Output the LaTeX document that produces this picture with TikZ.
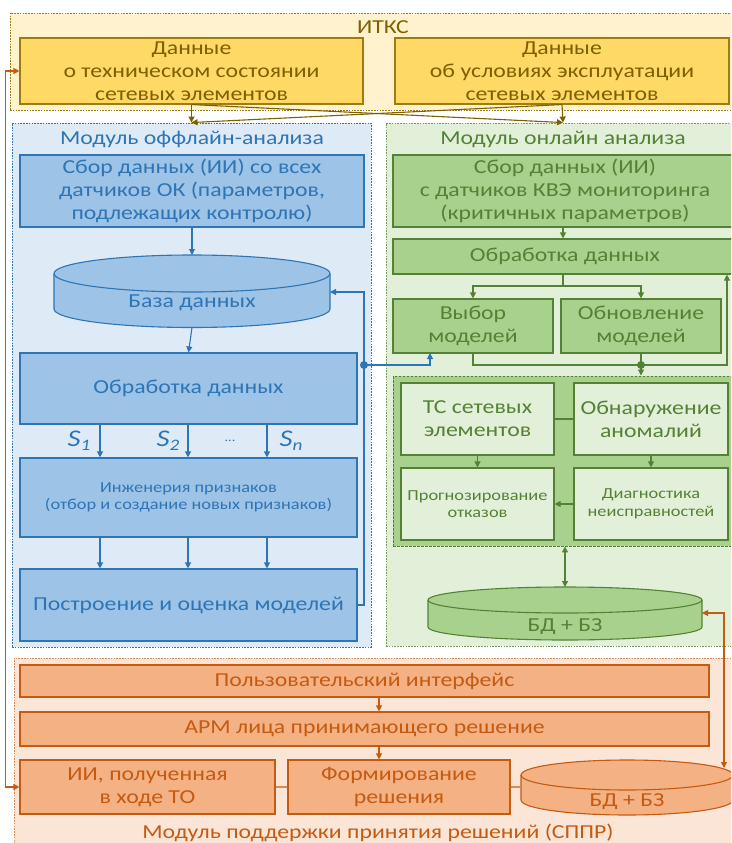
\documentclass[tikz,border=0pt]{standalone}
\usepackage{fontspec}
\setmainfont{Carlito}[FakeStretch=1.2]
\usetikzlibrary{arrows.meta}
\definecolor{ylfill}{HTML}{FFF2CC}
\definecolor{ylbox}{HTML}{FFD966}
\definecolor{yldraw}{HTML}{A07C10}
\definecolor{yltext}{HTML}{7F6000}
\definecolor{blfill}{HTML}{DEEBF7}
\definecolor{blbox}{HTML}{9DC3E6}
\definecolor{bldraw}{HTML}{2E75B6}
\definecolor{grfill}{HTML}{E2F0D9}
\definecolor{grbox}{HTML}{A9D18E}
\definecolor{grdraw}{HTML}{548235}
\definecolor{grtext}{HTML}{548235}
\definecolor{orfill}{HTML}{FBE5D6}
\definecolor{orbox}{HTML}{F4B183}
\definecolor{ordraw}{HTML}{C55A11}
\newcommand\fsL{\fontsize{19.8}{23}\selectfont}
\newcommand\fsS{\fontsize{15.3}{17.5}\selectfont}
\newcommand\mycyl[7]{%
  \path[fill=#6,draw=#7,line width=1.1pt] (#1-#2,#3) -- (#1-#2,#4)
    arc[start angle=180,end angle=0,x radius=#2,y radius=#5] -- (#1+#2,#3)
    arc[start angle=0,end angle=-180,x radius=#2,y radius=#5] -- cycle;
  \draw[#7,line width=1.1pt] (#1-#2,#3) arc[start angle=180,end angle=0,x radius=#2,y radius=#5];}
\begin{document}
\begin{tikzpicture}[x=1pt,y=-1pt,
  mod/.style={draw, line width=0.9pt, dash pattern=on 1.6pt off 1.2pt, inner sep=0},
  box/.style={draw, line width=1.1pt, inner sep=0, align=center},
  ybox/.style={box, fill=ylbox, draw=yldraw, text=yltext, font=\fsL},
  bbox/.style={box, fill=blbox, draw=bldraw, text=bldraw, font=\fsL},
  gbox/.style={box, fill=grbox, draw=grdraw, text=grtext, font=\fsL},
  gboxl/.style={box, fill=grfill, draw=grdraw, text=grtext, font=\fsL},
  obox/.style={box, fill=orbox, draw=ordraw, text=ordraw, font=\fsL},
  arr/.style={line width=1.1pt, -{Triangle[length=6pt,width=6pt]}},
  darr/.style={line width=1.1pt, {Triangle[length=6pt,width=6pt]}-{Triangle[length=6pt,width=6pt]}},
  ln/.style={line width=1.1pt},
  lbl/.style={font=\fsL, inner sep=0}]
\useasboundingbox (0,0) rectangle (731,843);
\clip (0,0) rectangle (731,843);
% modules
\node[mod, draw=yldraw, fill=ylfill, minimum width=730, minimum height=97] (itks) at (375,61.5) {};
\node[mod, draw=bldraw, fill=blfill, minimum width=359, minimum height=524] (off) at (191.5,385) {};
\node[mod, draw=grdraw!80, fill=grfill, minimum width=354, minimum height=523] (on) at (563,384.5) {};
\node[mod, draw=ordraw!70, fill=orfill, minimum width=726, minimum height=192] (sppr) at (377,754) {};
\node[lbl, text=yltext] (titks) at (383,27) {ИТКС};
\node[lbl, text=bldraw] (toff) at (192,139) {Модуль оффлайн-анализа};
\node[lbl, text=grtext] (ton) at (563,139) {Модуль онлайн анализа};
\node[lbl, text=ordraw] (tsppr) at (378,833) {Модуль поддержки принятия решений (СППР)};
% top boxes
\node[ybox, minimum width=343, minimum height=66] (yl) at (191.5,71) {Данные\\о техническом состоянии\\сетевых элементов};
\node[ybox, minimum width=334, minimum height=66] (yr) at (562,71) {Данные\\об условиях эксплуатации\\сетевых элементов};
\draw[arr, yltext] (yl.south) -- (off.north);
\draw[arr, yltext] (yl.south) -- (on.north);
\draw[arr, yltext] (yr.south) -- (on.north);
\draw[arr, yltext] (yr.south) -- (off.north);
% offline
\node[bbox, minimum width=344, minimum height=72] (sb1) at (192,191) {Сбор данных (ИИ) со всех\\датчиков ОК (параметров,\\подлежащих контролю)};
\mycyl{192}{138}{273.5}{309}{18.5}{blbox}{bldraw}
\node[lbl, text=bldraw] (db1) at (192,303) {База данных};
\coordinate (db1T) at (192,255);
\coordinate (db1B) at (192,327.5);
\coordinate (db1R) at (330,292);
\node[bbox, minimum width=337, minimum height=71] (ob1) at (188.5,388.5) {Обработка данных};
\node[bbox, font=\fsS, minimum width=337, minimum height=79] (ing) at (188.5,497.5) {Инженерия признаков\\(отбор и создание новых признаков)};
\node[bbox, minimum width=337, minimum height=72] (pb) at (188.5,605) {Построение и оценка моделей};
\draw[arr, bldraw] (sb1.south) -- (db1T);
\draw[arr, bldraw] (db1B) -- (ob1.north);
\coordinate (c1) at (100,0);
\coordinate (c2) at (188,0);
\coordinate (c3) at (267,0);
\foreach \c in {c1,c2,c3} {
  \draw[arr, bldraw] (ob1.south -| \c) -- (ing.north -| \c);
  \draw[arr, bldraw] (ing.south -| \c) -- (pb.north -| \c);
}
\node[lbl, text=bldraw, font=\fontsize{24}{26}\selectfont] (s1) at (79,441) {\itshape S\raisebox{-0.35ex}{\fontsize{16}{17}\selectfont 1}};
\node[lbl, text=bldraw, font=\fontsize{24}{26}\selectfont] (s2) at (168,441) {\itshape S\raisebox{-0.35ex}{\fontsize{16}{17}\selectfont 2}};
\node[lbl, text=bldraw, font=\fontsize{12}{14}\selectfont] (sdots) at (230,441) {...};
\node[lbl, text=bldraw, font=\fontsize{24}{26}\selectfont] (sn) at (291,441) {\itshape S\raisebox{-0.35ex}{\fontsize{16}{17}\selectfont n}};
\coordinate (bdot) at (364,365);
\draw[arr, bldraw] (pb.east) -| (bdot |- db1R) -- (db1R);
% online
\node[gbox, minimum width=344, minimum height=72] (sb2) at (565,191) {Сбор данных (ИИ)\\с датчиков КВЭ мониторинга\\(критичных параметров)};
\node[gbox, minimum width=344, minimum height=35] (ob2) at (565,256.5) {Обработка данных};
\node[gbox, minimum width=160, minimum height=54] (vm) at (473,326) {Выбор\\моделей};
\node[gbox, minimum width=160, minimum height=54] (upd) at (641,326) {Обновление\\моделей};
\node[box, draw=grdraw, fill=grbox, dash pattern=on 2.5pt off 1.5pt, line width=0.9pt, minimum width=347, minimum height=170] (inner) at (566.5,461) {};
\node[gboxl, minimum width=153, minimum height=72] (ts) at (477.5,419) {ТС сетевых\\элементов};
\node[gboxl, minimum width=154, minimum height=72] (an) at (651,419) {Обнаружение\\аномалий};
\node[gboxl, font=\fsS, minimum width=153, minimum height=72] (pr) at (477.5,504) {Прогнозирование\\отказов};
\node[gboxl, font=\fsS, minimum width=154, minimum height=72] (dg) at (651,504) {Диагностика\\неисправностей};
\mycyl{565}{137}{600}{627}{13}{grbox}{grdraw}
\node[lbl, text=grtext] (db2) at (565,627) {БД + БЗ};
\coordinate (db2T) at (565,587);
\coordinate (db2R) at (702,613);
\draw[arr, grdraw] (sb2.south -| ob2.north) ++(-2,0) coordinate (sb2a) -- (ob2.north -| sb2a);
\coordinate (gsplit) at (563,286);
\draw[ln, grdraw] (ob2.south -| gsplit) -- (gsplit);
\draw[arr, grdraw] (gsplit) -| (vm.north);
\draw[arr, grdraw] (gsplit) -| (upd.north);
\coordinate (gdot) at (641,365);
\coordinate (gR) at (727,365);
\draw[ln, grdraw] (vm.south) |- (gdot);
\draw[ln, grdraw] (upd.south) -- (gdot);
\draw[arr, grdraw] (gdot) -- (gR) -- (ob2.south -| gR);
\draw[arr, grdraw] (gdot) -- (inner.north -| gdot);
\draw[ln, grdraw] (ts.east) -- (an.west);
\draw[arr, grdraw] (ts.south) -- (pr.north);
\draw[arr, grdraw] (an.south) -- (dg.north);
\draw[arr, grdraw] (dg.west) -- (pr.east);
\draw[darr, grdraw] (inner.south -| db2T) -- (db2T);
\coordinate (vmB) at (430,353);
\draw[arr, bldraw] (bdot) -| (vmB);
\fill[bldraw] (bdot) circle[radius=4];
\fill[grdraw] (gdot) circle[radius=4];
% sppr
\node[obox, minimum width=689, minimum height=32] (ui) at (364.5,681) {Пользовательский интерфейс};
\node[obox, minimum width=689, minimum height=34] (arm) at (364.5,729) {АРМ лица принимающего решение};
\node[obox, minimum width=255, minimum height=54] (ii) at (147.5,787) {ИИ, полученная\\в ходе ТО};
\node[obox, minimum width=222, minimum height=54] (fr) at (399,787) {Формирование\\решения};
\mycyl{627}{106}{775}{800}{15}{orbox}{ordraw}
\node[lbl, text=ordraw] (db3) at (627,802) {БД + БЗ};
\coordinate (db3L) at (521,787);
\coordinate (db3T) at (724,768);
\coordinate (c379) at (379,0);
\draw[arr, ordraw] (ui.south -| c379) -- (arm.north -| c379);
\draw[arr, ordraw] (arm.south -| c379) -- (fr.north -| c379);
\draw[ln, ordraw!70] (ii.east) -- (fr.west);
\draw[ln, ordraw!70] (fr.east) -- (db3L);
\draw[darr, ordraw] (db2R) -| (db3T);
\draw[darr, ordraw] (yl.west) -- ++(-14,0) |- (ii.west);
\end{tikzpicture}
\end{document}
